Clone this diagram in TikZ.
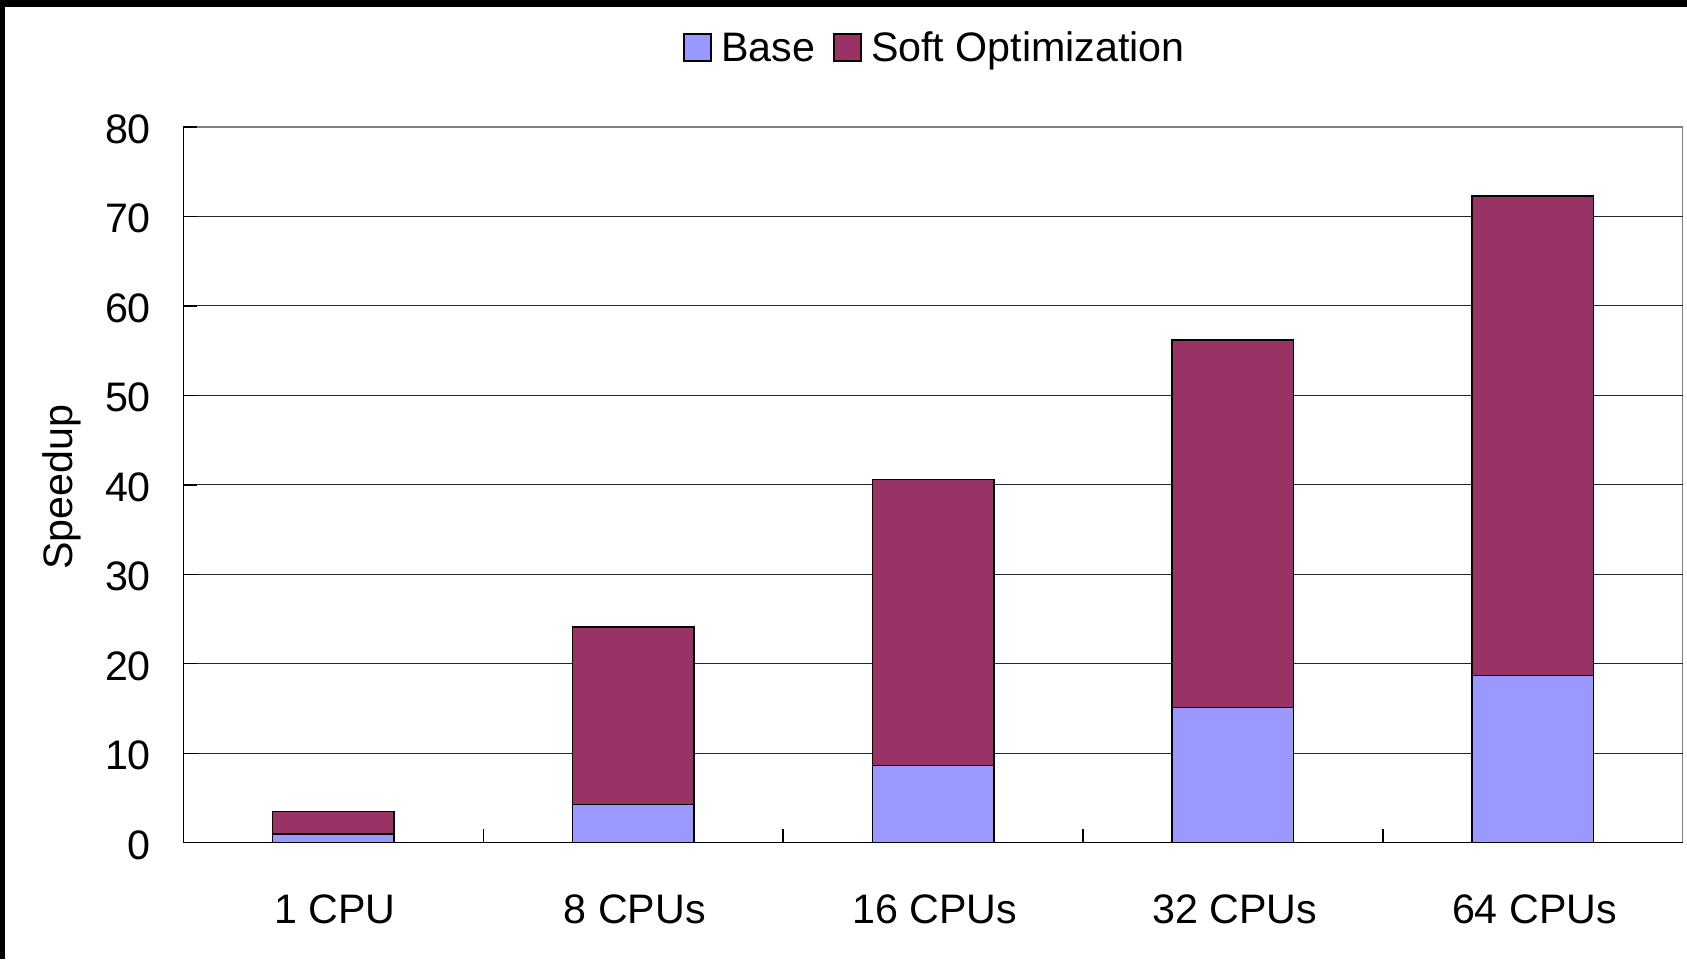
\documentclass[tikz,border=0pt]{standalone}
\usepackage{fontspec}
\setmainfont{Liberation Sans}
\definecolor{basecol}{HTML}{9999FF}
\definecolor{softcol}{HTML}{993366}
\begin{document}
\begin{tikzpicture}[x=0.5pt,y=-0.5pt,
  lbl/.style={font=\fontsize{20.6}{24}\selectfont, inner sep=0pt, outer sep=0pt},
  gridline/.style={draw=black!85, line width=0.5pt},
  plotframe/.style={draw=black!50, line width=0.6pt},
  axisline/.style={draw=black, line width=0.7pt},
  barbase/.style={fill=basecol, draw=black, line width=0.75pt},
  barsoft/.style={fill=softcol, draw=black, line width=0.75pt},
  keybox/.style={draw=black, line width=0.75pt, minimum width=13.5pt, minimum height=13.5pt, inner sep=0pt}]
% canvas and dark frame along the top and left edges
\useasboundingbox (0,0) rectangle (1687,959);
\fill[white] (0,0) rectangle (1687,959);
\fill[black] (0,0) rectangle (1687,7);
\fill[black] (0,0) rectangle (5,959);

% legend
\node[keybox, fill=basecol, anchor=north west] (kbase) at (683,33) {};
\node[lbl, anchor=base west] (tbase) at (721.5,61.5) {Base};
\node[keybox, fill=softcol, anchor=north west] (ksoft) at (833,33) {};
\node[lbl, anchor=base west] (tsoft) at (871,61.5) {Soft Optimization};

% y-axis title
\node[lbl, rotate=90, anchor=base] (ytitle) at (72.7,487) {Speedup};

% plot area: one unit of x per category, one unit of y per unit of speedup
\begin{scope}[shift={(183.3,842.7)}, x=149.95pt, y=4.473pt]
  \draw[plotframe] (0,0) rectangle (5,80);
  \foreach \v in {10,20,...,70}
    \draw[gridline] (0,\v) -- (5,\v);

  % stacked bars: index/base/total
  \foreach \i/\b/\t in {1/0.95/3.47, 2/4.25/24.14, 3/8.61/40.62, 4/15.13/56.19, 5/18.67/72.29} {
    \draw[barsoft] (\i-0.5-0.2025,\b) rectangle (\i-0.5+0.2025,\t);
    \draw[barbase] (\i-0.5-0.2025,0) rectangle (\i-0.5+0.2025,\b);
  }

  % axes and inward tick marks
  \draw[axisline] (0,80) -- (0,0) -- (5,0);
  \foreach \v in {0,10,...,80}
    \draw[axisline] (0,\v) -- ++(7pt,0pt);
  \foreach \k in {1,...,4}
    \draw[axisline] (\k,0) -- ++(0pt,7pt);

  % tick labels
  \foreach \v in {0,10,...,80}
    \node[lbl, anchor=base east, xshift=-16.2pt, yshift=-8.25pt] (ylab\v) at (0,\v) {\v};
  \foreach \i/\name in {1/1 CPU, 2/8 CPUs, 3/16 CPUs, 4/32 CPUs, 5/64 CPUs}
    \node[lbl, anchor=base, xshift=0.8pt, yshift=-40.15pt] (xlab\i) at (\i-0.5,0) {\name};
\end{scope}
\end{tikzpicture}
\end{document}
